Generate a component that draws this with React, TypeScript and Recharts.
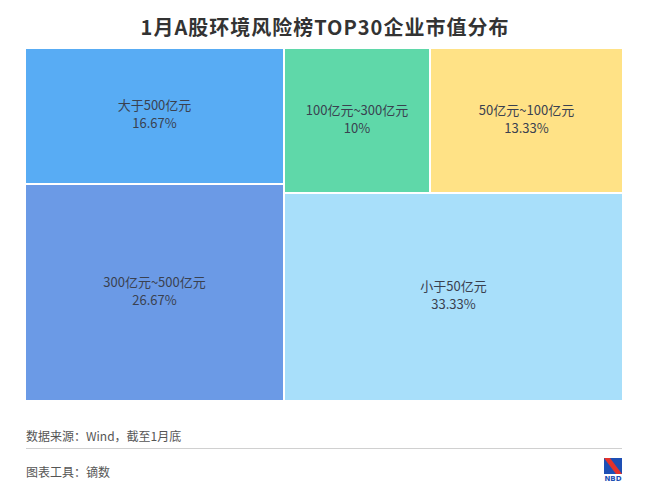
import React from "react";
import { Treemap } from "recharts";

// 市值区间与企业数量（共30家）
const categories = ["大于500亿元", "300亿元~500亿元", "100亿元~300亿元", "50亿元~100亿元", "小于50亿元"];
const counts = [5, 8, 3, 4, 10];
const shares = ["16.67%", "26.67%", "10%", "13.33%", "33.33%"];
const colors = ["#58acf4", "#6b9ae6", "#5fd8a9", "#ffe286", "#a8dffa"];

const treeData = categories.map((name, i) => ({
    name,
    size: counts[i],
    share: shares[i],
    color: colors[i],
}));

const FONT = "'Noto Sans CJK SC', 'Noto Sans', sans-serif";

function Cell(props: any) {
    const { x, y, width, height, depth, name, share, color } = props;
    if (depth !== 1) return null;
    const cx = x + width / 2;
    const cy = y + height / 2;
    return (
        <g>
            <rect x={x} y={y} width={width} height={height} fill={color} stroke="#fff" strokeWidth={2} />
            <text x={cx} y={cy - 6} textAnchor="middle" fontSize={13} fill="#3a4150" fontFamily={FONT}>
                {name}
            </text>
            <text x={cx} y={cy + 12} textAnchor="middle" fontSize={13} fill="#3a4150" fontFamily={FONT}>
                {share}
            </text>
        </g>
    );
}

export default function App() {
    return (
        <div style={{ position: "absolute", left: 0, top: 0, width: 650, height: 500, background: "#fff", fontFamily: FONT }}>
            <div style={{ position: "absolute", top: 12, width: 650, textAlign: "center", fontSize: 20, fontWeight: "bold", letterSpacing: 1, color: "#333" }}>
                1月A股环境风险榜TOP30企业市值分布
            </div>

            <div style={{ position: "absolute", left: 25, top: 48 }}>
                <Treemap
                    width={598}
                    height={353}
                    data={treeData}
                    dataKey="size"
                    nameKey="name"
                    aspectRatio={1}
                    content={<Cell />}
                    isAnimationActive={false}
                />
            </div>

            <div style={{ position: "absolute", left: 26, top: 427, fontSize: 12, color: "#555" }}>
                数据来源：Wind，截至1月底
            </div>
            <div style={{ position: "absolute", left: 26, top: 448, width: 596, borderTop: "1px solid #d0d0d0" }} />
            <div style={{ position: "absolute", left: 26, top: 463, fontSize: 12, color: "#555" }}>
                图表工具：镝数
            </div>

            <svg style={{ position: "absolute", left: 604, top: 458 }} width={18} height={26}>
                <rect x={0} y={0} width={18} height={16} fill="#1e4fb4" />
                <polygon points="0,0 6,0 18,16 12,16" fill="#e4322b" />
                <text x={9} y={23} textAnchor="middle" fontSize={7} fontWeight="bold" fill="#1e4fb4" fontFamily="DejaVu Sans">
                    NBD
                </text>
            </svg>
        </div>
    );
}
